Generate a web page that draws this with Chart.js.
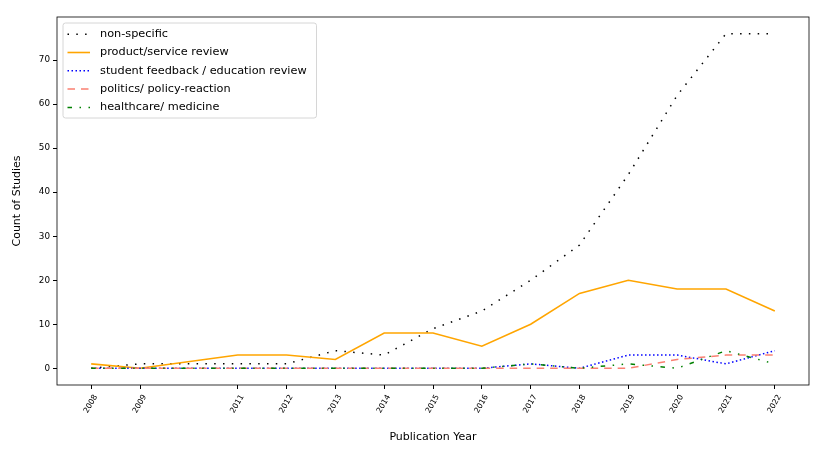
<!DOCTYPE html>
<html>
<head>
<meta charset="utf-8">
<script src="https://cdn.jsdelivr.net/npm/chart.js@4"></script>
<style>
  html, body { margin: 0; padding: 0; background: #fff; }
  #wrap { width: 830px; height: 463px; position: relative; }
</style>
</head>
<body>
<div id="wrap"><canvas id="c"></canvas></div>
<script>
const years = [2008, 2009, 2011, 2012, 2013, 2014, 2015, 2016, 2017, 2018, 2019, 2020, 2021, 2022];
const nonSpecific = [0, 1, 1, 1, 4, 3, 9, 13, 20, 28, 44, 62, 76, 76];
const productReview = [1, 0, 3, 3, 2, 8, 8, 5, 10, 17, 20, 18, 18, 13];
const studentFeedback = [0, 0, 0, 0, 0, 0, 0, 0, 1, 0, 3, 3, 1, 4];
const politics = [0, 0, 0, 0, 0, 0, 0, 0, 0, 0, 0, 2, 3, 3];
const healthcare = [0, 0, 0, 0, 0, 0, 0, 0, 1, 0, 1, 0, 4, 1];
const yTicks = [0, 10, 20, 30, 40, 50, 60, 70];
const seriesNames = ['non-specific', 'product/service review', 'student feedback / education review', 'politics/ policy-reaction', 'healthcare/ medicine'];

const FONT = 'DejaVu Sans';
const toPts = arr => arr.map((v, i) => ({x: years[i], y: v}));

const styles = [
  {color: '#000000', dash: [1.5, 7.3], width: 1.5},
  {color: '#FFA500', dash: [], width: 1.6},
  {color: '#0000FF', dash: [1.5, 2.5], width: 1.5},
  {color: '#FA8072', dash: [7.5, 6], width: 1.5},
  {color: '#008000', dash: [4.5, 7.5, 1.5, 7.5, 1.5, 7.5], width: 1.5}
];
const allSeries = [nonSpecific, productReview, studentFeedback, politics, healthcare];

const datasets = allSeries.map((s, i) => ({
  label: seriesNames[i],
  data: toPts(s),
  borderColor: styles[i].color,
  borderWidth: styles[i].width,
  borderDash: styles[i].dash,
  pointRadius: 0,
  tension: 0,
  fill: false,
  order: 10 - i
}));

const frame = {
  id: 'frame',
  afterDraw(chart) {
    const {ctx, chartArea: a} = chart;
    ctx.save();
    ctx.strokeStyle = '#000';
    ctx.lineWidth = 0.8;
    ctx.strokeRect(a.left, a.top, a.right - a.left, a.bottom - a.top);
    ctx.restore();
  }
};

const legendBox = {
  id: 'legendBox',
  afterDraw(chart) {
    const {ctx, chartArea: a} = chart;
    const x0 = a.left + 6, y0 = a.top + 6, w = 253.5, h = 95;
    ctx.save();
    ctx.beginPath();
    const r = 2.5;
    ctx.moveTo(x0 + r, y0);
    ctx.lineTo(x0 + w - r, y0); ctx.quadraticCurveTo(x0 + w, y0, x0 + w, y0 + r);
    ctx.lineTo(x0 + w, y0 + h - r); ctx.quadraticCurveTo(x0 + w, y0 + h, x0 + w - r, y0 + h);
    ctx.lineTo(x0 + r, y0 + h); ctx.quadraticCurveTo(x0, y0 + h, x0, y0 + h - r);
    ctx.lineTo(x0, y0 + r); ctx.quadraticCurveTo(x0, y0, x0 + r, y0);
    ctx.closePath();
    ctx.fillStyle = 'rgba(255,255,255,0.8)';
    ctx.fill();
    ctx.strokeStyle = '#cccccc';
    ctx.lineWidth = 0.8;
    ctx.stroke();
    ctx.font = '11.3px "' + FONT + '"';
    ctx.textBaseline = 'middle';
    ctx.textAlign = 'left';
    for (let i = 0; i < seriesNames.length; i++) {
      const cy = y0 + 11.2 + i * 18.3;
      ctx.beginPath();
      ctx.setLineDash(styles[i].dash);
      ctx.strokeStyle = styles[i].color;
      ctx.lineWidth = styles[i].width;
      ctx.moveTo(x0 + 4.5, cy);
      ctx.lineTo(x0 + 27, cy);
      ctx.stroke();
      ctx.setLineDash([]);
      ctx.fillStyle = '#000';
      ctx.fillText(seriesNames[i], x0 + 37, cy);
    }
    ctx.restore();
  }
};

new Chart(document.getElementById('c'), {
  type: 'line',
  data: {datasets},
  options: {
    responsive: true,
    maintainAspectRatio: false,
    animation: false,
    layout: {padding: {top: 17, right: 21, bottom: 0, left: 0}},
    plugins: {legend: {display: false}, tooltip: {enabled: false}},
    scales: {
      x: {
        type: 'linear',
        min: 2007.3,
        max: 2022.7,
        afterBuildTicks: s => { s.ticks = years.map(v => ({value: v})); },
        afterFit: s => { s.height = 78; },
        grid: {display: true, drawOnChartArea: false, drawTicks: true, tickLength: 4, tickColor: '#000'},
        border: {display: false},
        ticks: {
          autoSkip: false,
          minRotation: 60, maxRotation: 60,
          color: '#000',
          font: {family: FONT, size: 7.8},
          padding: 4,
          labelOffset: 4.6,
          callback: v => String(v)
        },
        title: {display: true, text: 'Publication Year', color: '#000', font: {family: FONT, size: 11}, padding: {top: 0, bottom: 19}}
      },
      y: {
        type: 'linear',
        min: -3.8,
        max: 79.8,
        afterBuildTicks: s => { s.ticks = yTicks.map(v => ({value: v})); },
        afterFit: s => { s.width = 57; },
        grid: {display: true, drawOnChartArea: false, drawTicks: true, tickLength: 4, tickColor: '#000'},
        border: {display: false},
        ticks: {color: '#000', font: {family: FONT, size: 8.8}, padding: 3},
        title: {display: true, text: 'Count of Studies', color: '#000', font: {family: FONT, size: 11}, padding: {top: 10.5, bottom: 0}}
      }
    }
  },
  plugins: [frame, legendBox]
});
</script>
</body>
</html>
